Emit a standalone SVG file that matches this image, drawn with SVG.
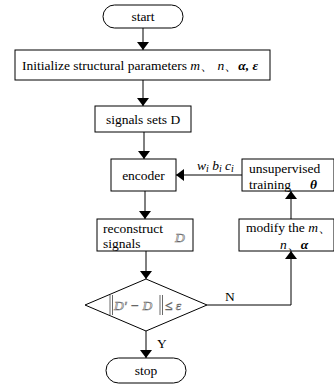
<svg xmlns="http://www.w3.org/2000/svg" width="334" height="388" viewBox="0 0 334 388">
<style>
.b{fill:#fff;stroke:#000;stroke-width:1}
.t{font-family:"Liberation Serif","Times New Roman",serif;font-size:13.5px;fill:#000}
.c{text-anchor:middle}
.i{font-style:italic}
.bi{font-style:italic;font-weight:bold}
.o{fill:#fff;stroke:#666;stroke-width:0.6;font-style:italic}
.l{fill:none;stroke:#000;stroke-width:1}
</style>
<defs>
<marker id="a" viewBox="0 0 8 12" refX="8" refY="6" markerWidth="8" markerHeight="12" markerUnits="userSpaceOnUse" orient="auto">
<path d="M0,0 L8,6 L0,12 Z" fill="#000"/>
</marker>
</defs>
<rect width="334" height="388" fill="#fff"/>
<g id="connectors">
<line class="l" x1="143" y1="28" x2="143" y2="50" marker-end="url(#a)"/>
<line class="l" x1="143" y1="80" x2="143" y2="106" marker-end="url(#a)"/>
<line class="l" x1="144" y1="132" x2="144" y2="159" marker-end="url(#a)"/>
<line class="l" x1="145" y1="191" x2="145" y2="219" marker-end="url(#a)"/>
<line class="l" x1="146" y1="251" x2="146" y2="279" marker-end="url(#a)"/>
<line class="l" x1="146" y1="331" x2="146" y2="358" marker-end="url(#a)"/>
<line class="l" x1="242" y1="175" x2="176" y2="175" marker-end="url(#a)"/>
<polyline class="l" points="207,305 291,305 291,251" marker-end="url(#a)"/>
<line class="l" x1="291" y1="219" x2="291" y2="191" marker-end="url(#a)"/>
<text class="t" x="225" y="301">N</text>
<text class="t" x="157" y="348">Y</text>
<text class="t" x="197" y="170"><tspan class="i">w</tspan><tspan class="i" font-size="10" dy="1.5">i</tspan><tspan class="i" dy="-1.5"> b</tspan><tspan class="i" font-size="10" dy="1.5">i</tspan><tspan class="i" dy="-1.5"> c</tspan><tspan class="i" font-size="10" dy="1.5">i</tspan></text>
</g>
<g id="start">
<rect class="b" x="103" y="5" width="80" height="23" rx="11.5"/>
<text class="t c" x="143" y="21">start</text>
</g>
<g id="init">
<rect class="b" x="15" y="50" width="255" height="30"/>
<text class="t" x="22" y="70">Initialize structural parameters <tspan class="i">m</tspan>、 <tspan class="i">n</tspan>、<tspan class="bi">α</tspan><tspan class="bi">, ε</tspan></text>
</g>
<g id="signals">
<rect class="b" x="95" y="106" width="96" height="26"/>
<text class="t c" x="143" y="124">signals sets D</text>
</g>
<g id="encoder">
<rect class="b" x="111" y="159" width="65" height="32"/>
<text class="t c" x="143.5" y="180">encoder</text>
</g>
<g id="training">
<rect class="b" x="242" y="159" width="92" height="32"/>
<text class="t" x="249" y="173">unsupervised</text>
<text class="t" x="249" y="189">training</text>
<text class="t bi" x="310" y="189">θ</text>
</g>
<g id="reconstruct">
<rect class="b" x="97" y="219" width="96" height="32"/>
<text class="t" x="103" y="233">reconstruct</text>
<text class="t" x="103" y="248">signals</text>
<text class="t o" x="175" y="242">D</text>
</g>
<g id="modify">
<rect class="b" x="239" y="219" width="95" height="32"/>
<text class="t" x="246" y="232">modify the <tspan class="i">m</tspan>、</text>
<text class="t" x="280" y="249"><tspan class="i">n</tspan>、<tspan class="bi">α</tspan></text>
</g>
<g id="decision">
<polygon class="b" points="85,305 146,279 207,305 146,331"/>
<line x1="110" y1="295" x2="110" y2="315" stroke="#444" stroke-width="0.8"/>
<line x1="112.5" y1="295" x2="112.5" y2="315" stroke="#444" stroke-width="0.8"/>
<line x1="160" y1="295" x2="160" y2="315" stroke="#444" stroke-width="0.8"/>
<line x1="162.5" y1="295" x2="162.5" y2="315" stroke="#444" stroke-width="0.8"/>
<text class="t o" x="114" y="310">D' − D</text>
<text class="t o" x="165" y="310">≤ ε</text>
</g>
<g id="stop">
<rect class="b" x="106" y="358" width="80" height="25" rx="12.5"/>
<text class="t c" x="146" y="375">stop</text>
</g>
</svg>
